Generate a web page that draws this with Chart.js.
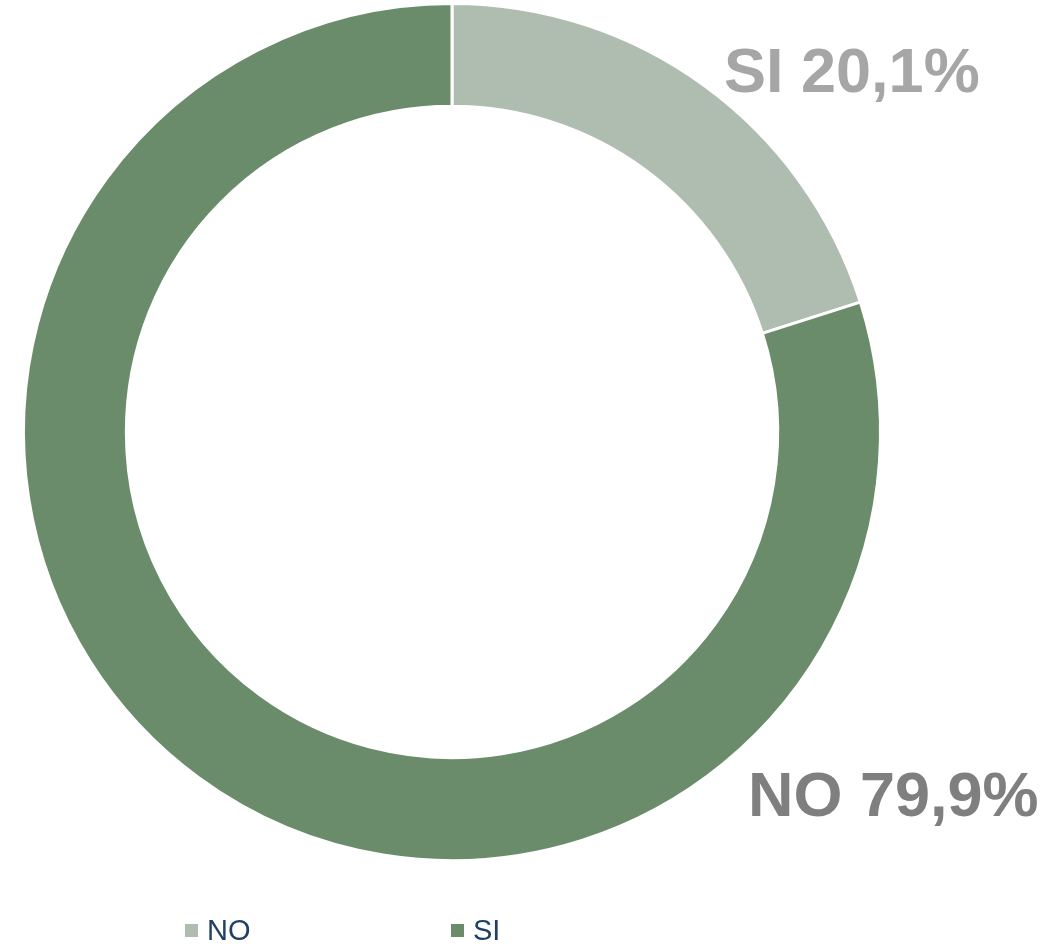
<!DOCTYPE html>
<html>
<head>
<meta charset="utf-8">
<script src="https://cdn.jsdelivr.net/npm/chart.js@4/dist/chart.umd.min.js"></script>
<style>
  html, body { margin: 0; padding: 0; background: #fff; }
  #wrap { width: 1053px; height: 946px; }
</style>
</head>
<body>
<div id="wrap"><canvas id="myChart" width="1053" height="946"></canvas></div>
<script>
// datos
const categories = ["SI", "NO"];
const values = [20.1, 79.9];
const sliceColors = ["#AEBDB0", "#6B8C6B"];
const sliceLabels = ["SI 20,1%", "NO 79,9%"];
// la leyenda original trae los colores cruzados
const legendNames = ["NO", "SI"];
const legendColors = ["#AEBDB0", "#6B8C6B"];

// etiquetas y leyenda dibujadas a mano
const labelsPlugin = {
  id: "labelsPlugin",
  afterDraw(chart) {
    const ctx = chart.ctx;
    ctx.save();
    ctx.font = "bold 63px 'Liberation Sans', Arial, sans-serif";
    ctx.textBaseline = "alphabetic";
    ctx.textAlign = "left";
    ctx.fillStyle = "#A6A6A6";
    ctx.fillText(sliceLabels[0], 724, 92);
    ctx.fillStyle = "#7F7F7F";
    ctx.fillText(sliceLabels[1], 748, 816);

    ctx.font = "29px 'Liberation Sans', Arial, sans-serif";
    const legendX = [185, 451];
    legendNames.forEach((name, i) => {
      ctx.fillStyle = legendColors[i];
      ctx.fillRect(legendX[i], 924, 13, 13);
      ctx.fillStyle = "#1F3F66";
      ctx.fillText(name, legendX[i] + 22, 940);
    });
    ctx.restore();
  }
};

const canvas = document.getElementById("myChart");
new Chart(canvas, {
  type: "doughnut",
  data: {
    labels: categories,
    datasets: [{
      data: values,
      backgroundColor: sliceColors,
      borderColor: "#ffffff",
      borderWidth: 3
    }]
  },
  options: {
    responsive: false,
    animation: false,
    cutout: "76%",
    layout: { padding: { left: 22, right: 171, top: 2, bottom: 84 } },
    plugins: {
      legend: { display: false },
      tooltip: { enabled: false }
    }
  },
  plugins: [labelsPlugin]
});
</script>
</body>
</html>
